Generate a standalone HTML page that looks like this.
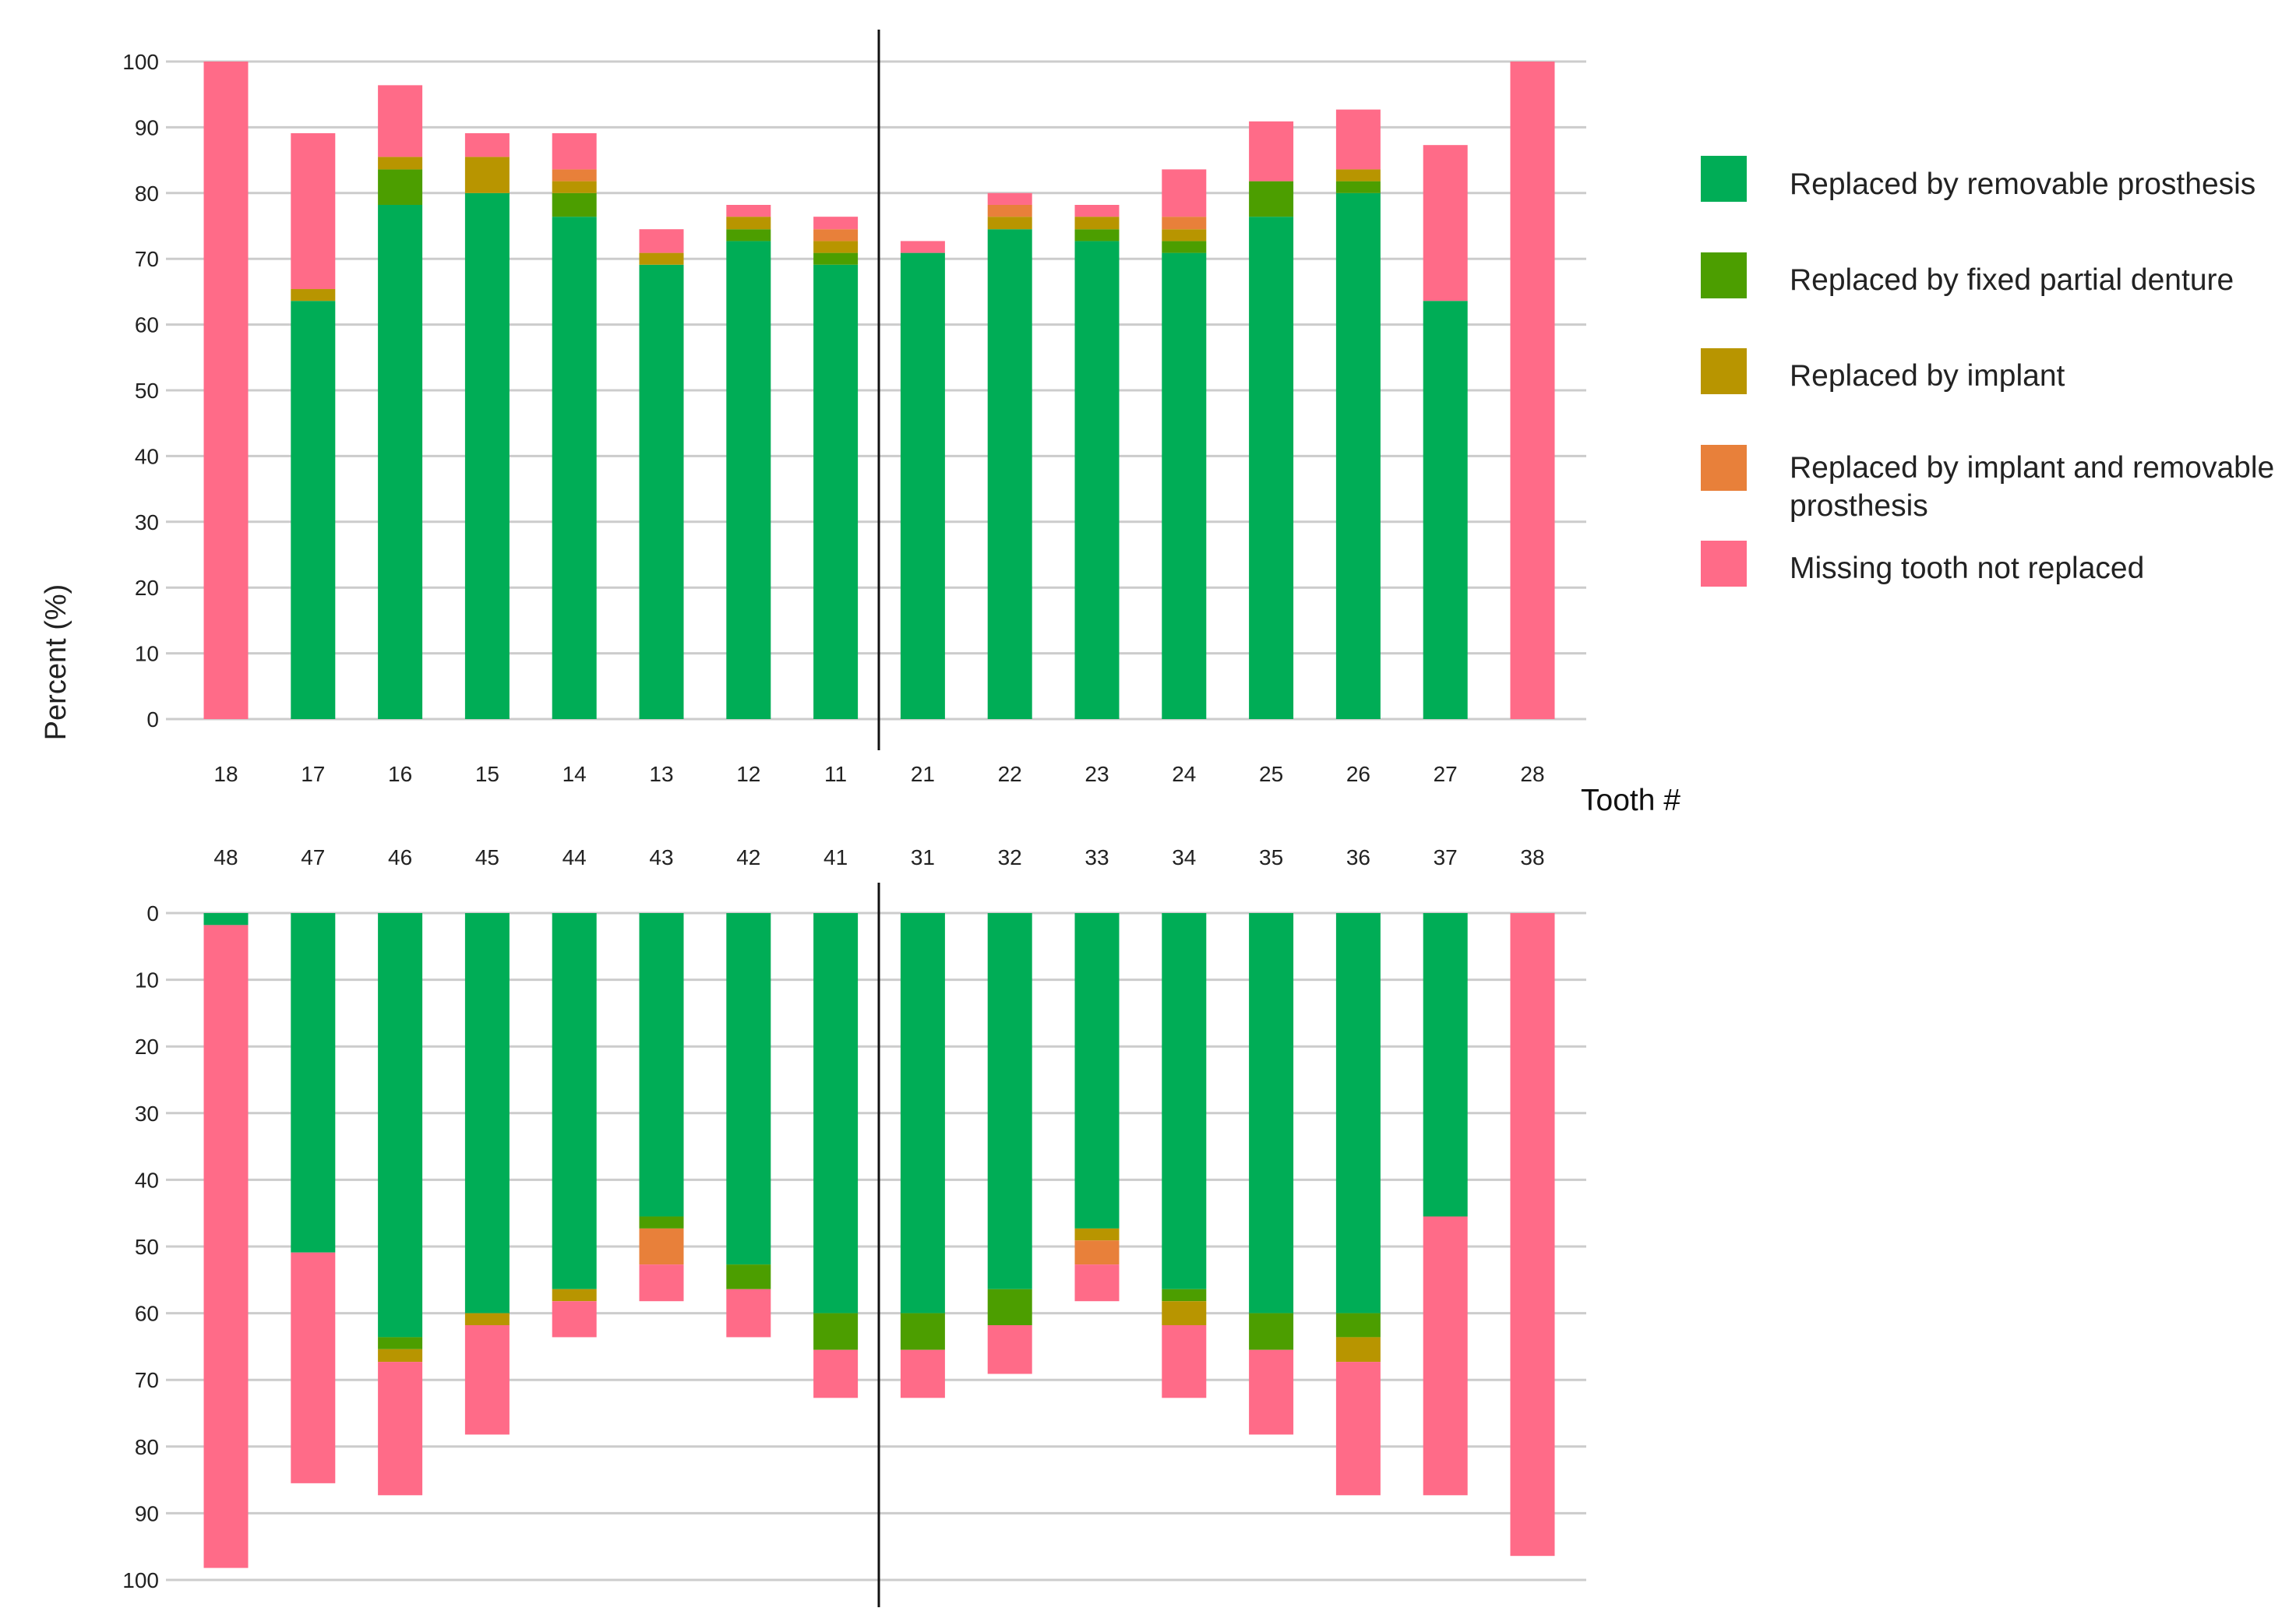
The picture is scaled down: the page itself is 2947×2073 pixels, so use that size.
<!DOCTYPE html>
<html><head><meta charset="utf-8"><style>
html,body{margin:0;padding:0;background:#fff;}
svg{display:block;font-family:"Liberation Sans",sans-serif;}
</style></head><body>
<svg id="chart" width="2947" height="2073" viewBox="0 0 2947 2073" xmlns="http://www.w3.org/2000/svg">
<text x="0" y="0" transform="translate(84,850) rotate(-90)" font-size="38" text-anchor="middle" fill="#222">Percent  (%)</text>
<text x="2029" y="1040" font-size="39" fill="#111">Tooth #</text>
<g>
<rect x="2183" y="200" width="59" height="59" fill="#00AD56"/>
<text x="2297" y="249" font-size="39" fill="#222">Replaced by removable prosthesis</text>
<rect x="2183" y="324" width="59" height="59" fill="#4C9E00"/>
<text x="2297" y="372" font-size="39" fill="#222">Replaced by fixed partial denture</text>
<rect x="2183" y="447" width="59" height="59" fill="#B89500"/>
<text x="2297" y="495" font-size="39" fill="#222">Replaced by implant</text>
<rect x="2183" y="571" width="59" height="59" fill="#E8803A"/>
<text x="2297" y="613" font-size="39" fill="#222">Replaced by implant and removable</text>
<text x="2297" y="662" font-size="39" fill="#222">prosthesis</text>
<rect x="2183" y="694" width="59" height="59" fill="#FF6B88"/>
<text x="2297" y="742" font-size="39" fill="#222">Missing tooth not replaced</text>
</g>
</svg>
<script>
const upperTeeth = ['18','17','16','15','14','13','12','11','21','22','23','24','25','26','27','28'];
const lowerTeeth = ['48','47','46','45','44','43','42','41','31','32','33','34','35','36','37','38'];
const yTicks = [0,10,20,30,40,50,60,70,80,90,100];
const seriesNames = ['removable','fixed','implant','implant-removable','missing'];
const seriesColors = ['#00AD56','#4C9E00','#B89500','#E8803A','#FF6B88'];
// upper jaw segment values
const upRemovable = [0,63.6,78.2,80,76.4,69.1,72.7,69.1,70.9,74.5,72.7,70.9,76.4,80,63.6,0];
const upFixed     = [0,0,5.4,0,3.6,0,1.8,1.8,0,0,1.8,1.8,5.4,1.8,0,0];
const upImplant   = [0,1.8,1.9,5.5,1.8,1.8,1.9,1.8,0,1.9,1.9,1.8,0,1.8,0,0];
const upImplRem   = [0,0,0,0,1.8,0,0,1.8,0,1.8,0,1.9,0,0,0,0];
const upMissing   = [100,23.7,10.9,3.6,5.5,3.6,1.8,1.9,1.8,1.8,1.8,7.2,9.1,9.1,23.7,100];
// lower jaw segment values
const loRemovable = [1.8,50.9,63.6,60,56.4,45.5,52.7,60,60,56.4,47.3,56.4,60,60,45.5,0];
const loFixed     = [0,0,1.8,0,0,1.8,3.7,5.5,5.5,5.4,0,1.8,5.5,3.6,0,0];
const loImplant   = [0,0,1.9,1.8,1.8,0,0,0,0,0,1.8,3.6,0,3.7,0,0];
const loImplRem   = [0,0,0,0,0,5.4,0,0,0,0,3.6,0,0,0,0,0];
const loMissing   = [96.4,34.6,20,16.4,5.4,5.5,7.2,7.2,7.2,7.3,5.5,10.9,12.7,20,41.8,96.4];

const NS='http://www.w3.org/2000/svg';
const svg=document.getElementById('chart');
const X0=213,X1=2036,first=290,step=(1967-290)/15,BW=57;
function xPos(i){return first+i*step;}
function mk(tag,attrs){const e=document.createElementNS(NS,tag);for(const k in attrs)e.setAttribute(k,attrs[k]);svg.appendChild(e);return e;}

function panel(name,teeth,series,y0px,y100px,labelY,divTop,divBot){
  const yS=v=>y0px+(y100px-y0px)*v/100;
  yTicks.forEach(t=>{
    const g=mk('line',{x1:X0,x2:X1,y1:yS(t),y2:yS(t),stroke:'#cccccc','stroke-width':3});
    
    
    const tx=mk('text',{x:204,y:yS(t)+10,'font-size':28,'text-anchor':'end',fill:'#222'});
    tx.textContent=t;
    
    
  });
  teeth.forEach((tooth,i)=>{
    let acc=0;
    series.forEach((arr,s)=>{
      const v=arr[i];
      if(v>0){
        const a=yS(acc),b=yS(acc+v);
        const r=mk('rect',{x:xPos(i)-BW/2,y:Math.min(a,b),width:BW,height:Math.abs(b-a),fill:seriesColors[s]});
        
        
      }
      acc+=v;
    });
    const l=mk('text',{x:xPos(i),y:labelY,'font-size':28,'text-anchor':'middle',fill:'#222'});
    l.textContent=tooth;
    
    
  });
  const d=mk('line',{x1:1128,x2:1128,y1:divTop,y2:divBot,stroke:'#111','stroke-width':3});
  
  
}
panel('upper-jaw',upperTeeth,[upRemovable,upFixed,upImplant,upImplRem,upMissing],923,79,1003,38,963);
panel('lower-jaw',lowerTeeth,[loRemovable,loFixed,loImplant,loImplRem,loMissing],1172,2028,1110,1133,2063);
</script>
</body></html>
